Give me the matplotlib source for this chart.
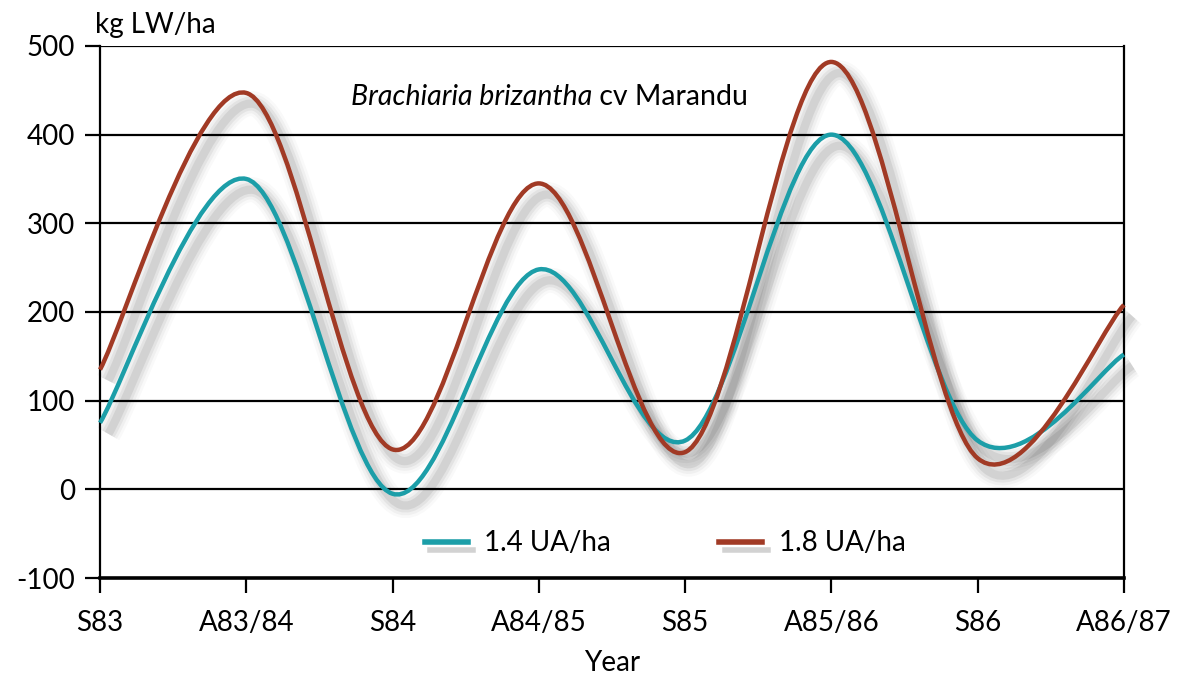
import matplotlib
matplotlib.use("Agg")
import matplotlib.pyplot as plt
import matplotlib.patheffects as pe
from matplotlib.path import Path
from matplotlib.patches import PathPatch
from matplotlib.lines import Line2D
import numpy as np

plt.rcParams['font.family'] = ['Lato', 'DejaVu Sans']
plt.rcParams['axes.unicode_minus'] = False

years = ['S83', 'A83/84', 'S84', 'A84/85', 'S85', 'A85/86', 'S86', 'A86/87']
ua_14 = [75, 350, -5, 248, 55, 400, 55, 152]
ua_18 = [135, 447, 45, 345, 42, 482, 35, 208]

teal = '#1c9ea8'
brown = '#a13a25'


def smooth_path(xs, ys):
    # catmull-rom through the points, written as cubic bezier segments
    p = np.column_stack([xs, ys]).astype(float)
    ext = np.vstack([p[0], p, p[-1]])
    verts = [p[0]]
    codes = [Path.MOVETO]
    for i in range(len(p) - 1):
        p0, p1, p2, p3 = ext[i], ext[i + 1], ext[i + 2], ext[i + 3]
        c1 = p1 + (p2 - p0) / 6.0
        c2 = p2 - (p3 - p1) / 6.0
        verts += [c1, c2, p2]
        codes += [Path.CURVE4] * 3
    return Path(verts, codes)


fig = plt.figure(figsize=(11.98, 6.75), dpi=100)
ax = fig.add_axes([0.0835, 0.1437, 0.8547, 0.7882])

x = np.arange(len(years))
ax.set_xlim(0, len(years) - 1)
ax.set_ylim(-100, 500)

for v in range(0, 501, 100):
    ax.axhline(v, color='black', lw=1.6, zorder=1)

# soft drop shadow: a few wide, faint strokes offset down-right
shadow = [pe.Stroke(offset=(6, -8), linewidth=w, foreground='black', alpha=a)
          for w, a in [(18, 0.025), (14, 0.035), (10, 0.05), (6, 0.07)]]

for vals in [ua_14, ua_18]:
    sp = PathPatch(smooth_path(x, vals), fill=False, lw=3, edgecolor='none',
                   zorder=2, clip_on=False)
    sp.set_path_effects(shadow)
    ax.add_patch(sp)

for vals, col in [(ua_14, teal), (ua_18, brown)]:
    ax.add_patch(PathPatch(smooth_path(x, vals), fill=False, lw=3.2, edgecolor=col,
                           zorder=3, capstyle='butt', clip_on=False))

ax.spines['top'].set_visible(False)
ax.spines['left'].set_linewidth(1.6)
ax.spines['right'].set_linewidth(1.6)
ax.spines['bottom'].set_linewidth(2.6)

ax.set_xticks(x)
ax.set_xticklabels(years)
ax.set_yticks(range(-100, 501, 100))
ax.tick_params(axis='both', labelsize=20, width=1.6, length=11, direction='out')
ax.tick_params(axis='x', pad=12)
ax.tick_params(axis='y', pad=7)
ax.set_xlabel('Year', fontsize=20, labelpad=10)

fig.text(0.079, 0.943, 'kg LW/ha', fontsize=20, ha='left', va='bottom')
t1 = ax.text(0.245, 0.905, 'Brachiaria brizantha', style='italic', fontsize=20.5,
             transform=ax.transAxes, ha='left', va='center')
ax.annotate(' cv Marandu', xy=(1, 0.5), xycoords=t1, fontsize=20.5,
            ha='left', va='center')

leg_fx = [pe.SimpleLineShadow(offset=(4, -6), shadow_color='gray', alpha=0.35), pe.Normal()]
handles = [Line2D([], [], color=teal, lw=4, path_effects=leg_fx),
           Line2D([], [], color=brown, lw=4, path_effects=leg_fx)]
ax.legend(handles, ['1.4 UA/ha', '1.8 UA/ha'], loc='center', bbox_to_anchor=(0.552, 0.065),
          ncol=2, frameon=False, fontsize=20, handlelength=1.55, columnspacing=3.9,
          handletextpad=0.6)

fig.savefig('out.png', dpi=100, facecolor='white')
